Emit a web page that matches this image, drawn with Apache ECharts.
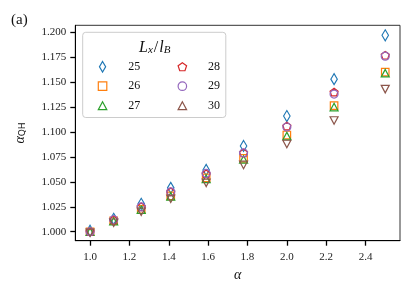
<!DOCTYPE html>
<html>
<head>
<meta charset="utf-8">
<script src="https://cdn.jsdelivr.net/npm/echarts@6/dist/echarts.min.js"></script>
<style>
html,body{margin:0;padding:0;background:#fff;}
#c{width:415px;height:290px;}
</style>
</head>
<body>
<div id="c"></div>
<script>
// ---- data ----
const alphaValues = [1.0, 1.12, 1.26, 1.41, 1.59, 1.78, 2.0, 2.24, 2.5];
const L25 = [1.001, 1.013, 1.028, 1.044, 1.062, 1.086, 1.116, 1.153, 1.197];
const L26 = [1.000, 1.011, 1.0225, 1.036, 1.054, 1.0735, 1.097, 1.1265, 1.160];
const L27 = [1.000, 1.0105, 1.022, 1.0355, 1.053, 1.0725, 1.096, 1.125, 1.159];
const L28 = [1.000, 1.012, 1.025, 1.040, 1.058, 1.079, 1.106, 1.140, 1.177];
const L29 = [1.000, 1.012, 1.025, 1.040, 1.0585, 1.079, 1.105, 1.138, 1.176];
const L30 = [0.999, 1.009, 1.020, 1.033, 1.049, 1.067, 1.088, 1.1115, 1.143];
const seriesNames = ['25', '26', '27', '28', '29', '30'];
const xTicks = [1.0, 1.2, 1.4, 1.6, 1.8, 2.0, 2.2, 2.4];
const yTicks = [1.000, 1.025, 1.050, 1.075, 1.100, 1.125, 1.150, 1.175, 1.200];

// ---- styling ----
const colors = ['#1f77b4', '#ff7f0e', '#2ca02c', '#d62728', '#9467bd', '#8c564b'];
const pentagon = 'path://M0,-1 L0.951,-0.309 L0.588,0.809 L-0.588,0.809 L-0.951,-0.309 Z';
const thinDiamond = 'path://M0,-1.7 L1,0 L0,1.7 L-1,0 Z';
const squarePath = 'path://M-1,-1 L1,-1 L1,1 L-1,1 Z';
const triPath = 'path://M0,-0.94 L1,0.94 L-1,0.94 Z';
const symbols = [thinDiamond, squarePath, triPath, pentagon, 'circle', triPath];
const symbolSizes = [[6.5, 11], [7.5, 7.5], [8, 7.5], [8, 7.6], [8, 8], [8, 7.5]];
const rotates = [0, 0, 0, 0, 0, 180];
const allData = [L25, L26, L27, L28, L29, L30];
const serif = '"Liberation Serif", "DejaVu Serif", serif';

const chart = echarts.init(document.getElementById('c'), null, {renderer: 'canvas'});

const series = seriesNames.map((n, i) => ({
  name: n,
  type: 'scatter',
  data: alphaValues.map((x, j) => [x, allData[i][j]]),
  symbol: symbols[i],
  symbolSize: symbolSizes[i],
  symbolRotate: rotates[i],
  itemStyle: {color: 'rgba(0,0,0,0)', borderColor: colors[i], borderWidth: 1.2, opacity: 1},
  emphasis: {disabled: true},
  z: 3
}));

function legendData(names) {
  return names.map(n => {
    const i = seriesNames.indexOf(n);
    return {
      name: n,
      icon: symbols[i],
      symbolRotate: rotates[i],
      itemStyle: {color: 'rgba(0,0,0,0)', borderColor: colors[i], borderWidth: 1.2}
    };
  });
}

const legendCommon = {
  orient: 'vertical',
  itemWidth: 8.5,
  itemHeight: 10.5,
  itemGap: 7.5,
  symbolKeepAspect: true,
  selectedMode: false,
  textStyle: {fontFamily: serif, fontSize: 12, color: '#111', lineHeight: 12, padding: [0, 0, 0, 16.5]},
};

const option = {
  animation: false,
  backgroundColor: '#fff',
  title: [
    {text: '(a)', left: 6, top: 8, textStyle: {fontFamily: serif, fontSize: 15, fontWeight: 'normal', color: '#111'}},
    {
      text: '{i|L}{s|x}{n|/}{i|l}{s|B}',
      left: 134, top: 34,
      textStyle: {
        fontWeight: 'normal',
        rich: {
          i: {fontFamily: serif, fontStyle: 'italic', fontWeight: 'normal', fontSize: 16, color: '#111'},
          s: {fontFamily: serif, fontStyle: 'italic', fontWeight: 'normal', fontSize: 11, color: '#111', padding: [6, 0, 0, 0]},
          n: {fontFamily: serif, fontWeight: 'normal', fontSize: 16, color: '#111', padding: [0, 1, 0, 1]}
        }
      },
      z: 10
    }
  ],
  legend: [
    Object.assign({}, legendCommon, {
      data: legendData(['25', '26', '27']),
      left: 82.7, top: 32.3,
      padding: [28.4, 85.5, 5.8, 15],
      backgroundColor: '#fff',
      borderColor: '#ccc',
      borderWidth: 1,
      borderRadius: 3,
      z: 5
    }),
    Object.assign({}, legendCommon, {
      data: legendData(['28', '29', '30']),
      left: 177.5, top: 60.7,
      padding: 0,
      z: 6
    })
  ],
  grid: {left: 75.3, right: 15, top: 25.3, bottom: 49.3, show: true, borderColor: '#333', borderWidth: 1, containLabel: false},
  xAxis: {
    type: 'value', min: 0.925, max: 2.575,
    name: 'α', nameLocation: 'middle', nameGap: 28,
    nameTextStyle: {fontFamily: serif, fontStyle: 'italic', fontSize: 14, color: '#111'},
    axisLine: {show: true, onZero: false, lineStyle: {color: '#000', width: 1}},
    axisTick: {show: true, length: 5, lineStyle: {color: '#000', width: 1.3}, customValues: xTicks},
    axisLabel: {customValues: xTicks, fontFamily: serif, fontSize: 11, color: '#222', margin: 11,
      formatter: v => v.toFixed(1)},
    splitLine: {show: false}
  },
  yAxis: {
    type: 'value', min: 0.991, max: 1.207,
    name: '{a|α}{s|QH}', nameLocation: 'middle', nameGap: 48, nameRotate: 90,
    nameTextStyle: {
      rich: {
        a: {fontFamily: serif, fontStyle: 'italic', fontSize: 14, color: '#111'},
        s: {fontFamily: '"DejaVu Sans", sans-serif', fontSize: 9, color: '#111', padding: [5, 0, 0, 0]}
      }
    },
    axisLine: {show: true, onZero: false, lineStyle: {color: '#000', width: 1}},
    axisTick: {show: true, length: 5, lineStyle: {color: '#000', width: 1.3}, customValues: yTicks},
    axisLabel: {customValues: yTicks, fontFamily: serif, fontSize: 11, color: '#222', margin: 9,
      formatter: v => v.toFixed(3)},
    splitLine: {show: false}
  },
  series: series
};
chart.setOption(option);
</script>
</body>
</html>
